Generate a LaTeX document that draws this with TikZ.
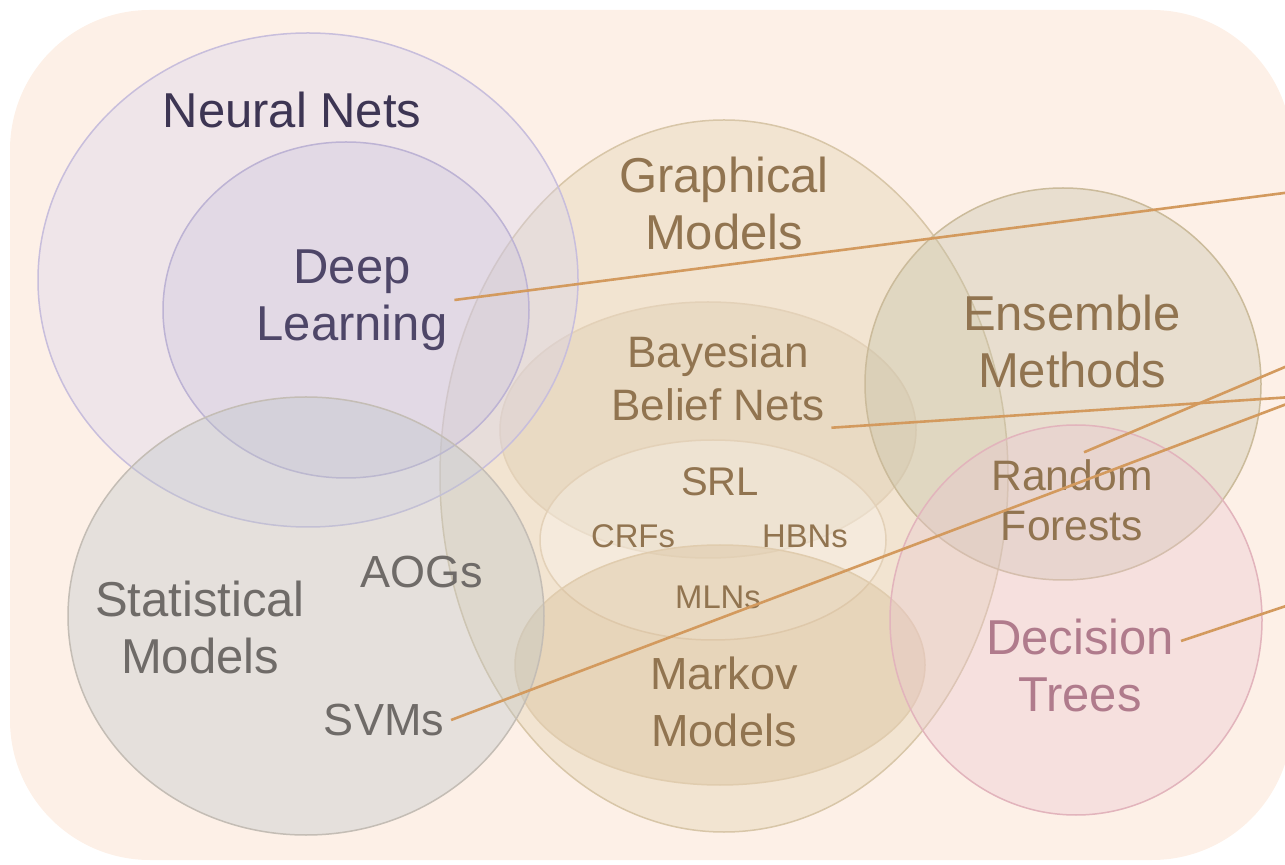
\documentclass[tikz,border=0pt]{standalone}
\usepackage{fontspec}
\setmainfont{Liberation Sans}
\definecolor{bgpeach}{HTML}{FDF0E7}
\definecolor{nnfill}{HTML}{D5D1ED}
\definecolor{nnline}{HTML}{C8BEDC}
\definecolor{dlfill}{HTML}{CAC3DE}
\definecolor{dlline}{HTML}{BDB3D4}
\definecolor{smfill}{HTML}{BBC4C8}
\definecolor{smline}{HTML}{C4BDB5}
\definecolor{gmfill}{HTML}{DECFA8}
\definecolor{gmline}{HTML}{D8C6A8}
\definecolor{bbfill}{HTML}{DBC8AB}
\definecolor{bbline}{HTML}{E3D1B8}
\definecolor{mmfill}{HTML}{D5BA91}
\definecolor{mmline}{HTML}{E0CCAE}
\definecolor{emfill}{HTML}{C1BFA5}
\definecolor{emline}{HTML}{CBBB9B}
\definecolor{dtfill}{HTML}{E9C5D0}
\definecolor{dtline}{HTML}{E2B4BC}
\definecolor{nntext}{HTML}{3D3553}
\definecolor{dltext}{HTML}{4E4668}
\definecolor{gmtext}{HTML}{917450}
\definecolor{smtext}{HTML}{6F6B68}
\definecolor{dttext}{HTML}{B07B8C}
\definecolor{linkcol}{HTML}{D39A5E}
\begin{document}
\begin{tikzpicture}[x=0.5pt, y=-0.5pt,
  set/.style={line width=0.75pt, fill opacity=0.35},
  big/.style={font=\fontsize{24.5}{28.5}\selectfont, align=center},
  mid/.style={font=\fontsize{22.5}{28.5}\selectfont, align=center},
  small/.style={font=\fontsize{16.4}{19}\selectfont},
  link/.style={draw=linkcol, line width=1.3pt}]
\useasboundingbox (0,0) rectangle (1285,865);
\clip (0,0) rectangle (1285,865);
\fill [bgpeach, rounded corners=70pt] (10,10) rectangle (1292,860);
\filldraw [set, fill=gmfill, draw=gmline] (724,476) ellipse [x radius=284, y radius=356];
\filldraw [set, fill=bbfill, draw=bbline] (708,430) ellipse [x radius=208, y radius=128];
\filldraw [set, fill=white, fill opacity=0.25, draw=bbline] (713,540) ellipse [x radius=173, y radius=100];
\filldraw [set, fill=mmfill, draw=mmline] (720,665) ellipse [x radius=205, y radius=120];
\filldraw [set, fill=nnfill, draw=nnline] (308,280) ellipse [x radius=270, y radius=247];
\filldraw [set, fill=dlfill, draw=dlline] (346,310) ellipse [x radius=183, y radius=168];
\filldraw [set, fill=smfill, draw=smline] (306,616) ellipse [x radius=238, y radius=219];
\filldraw [set, fill=emfill, draw=emline] (1063,384) ellipse [x radius=198, y radius=196];
\filldraw [set, fill=dtfill, draw=dtline] (1076,620) ellipse [x radius=186, y radius=195];
\node [big, text=nntext] (nn) at (292,110) {Neural Nets};
\node [big, text=dltext] (dl) at (352,300) {Deep\\Learning};
\node [big, text=gmtext] (gm) at (724,203) {Graphical\\Models};
\node [mid, text=gmtext, font=\fontsize{22}{26.5}\selectfont] (bbn) at (718,378) {Bayesian\\Belief Nets};
\node [mid, text=gmtext, font=\fontsize{20}{24}\selectfont] (srl) at (720,482) {SRL};
\node [small, text=gmtext] (crf) at (633,536) {CRFs};
\node [small, text=gmtext] (hbn) at (805,536) {HBNs};
\node [small, text=gmtext] (mln) at (718,597) {MLNs};
\node [mid, text=gmtext] (mm) at (724,702) {Markov\\Models};
\node [big, text=gmtext] (em) at (1072,341) {Ensemble\\Methods};
\node [mid, text=gmtext, font=\fontsize{21.3}{25}\selectfont] (rf) at (1072,500) {Random\\Forests};
\node [big, text=dttext] (dt) at (1080,665) {Decision\\Trees};
\node [big, text=smtext] (sm) at (200,627) {Statistical\\Models};
\node [mid, text=smtext] (aog) at (422,572) {AOGs};
\node [mid, text=smtext] (svm) at (384,720) {SVMs};
\coordinate (dlend) at (1292,192);
\coordinate (rfend) at (1292,364);
\coordinate (bbnend) at (1292,397);
\coordinate (svmend) at (1292,402);
\coordinate (dtend) at (1292,604);
\draw [link] (dl.east) -- (dlend);
\draw [link] (bbn.south east) -- (bbnend);
\draw [link] ([xshift=6pt]rf.north) -- (rfend);
\draw [link] (svm.east) -- (svmend);
\draw [link] ([yshift=12pt]dt.east) -- (dtend);
\end{tikzpicture}
\end{document}
